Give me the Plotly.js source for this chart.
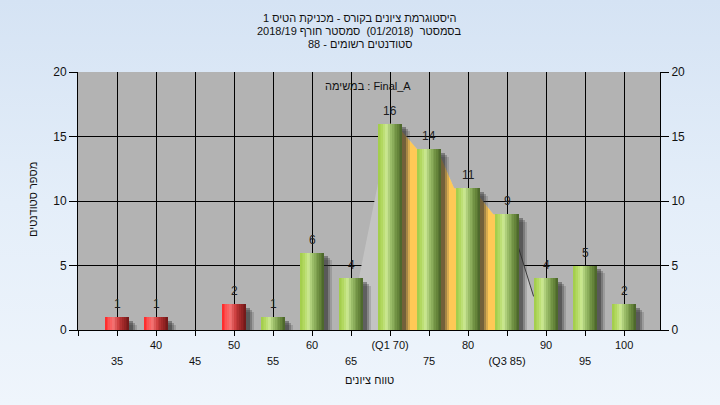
<!DOCTYPE html>
<html>
<head>
<meta charset="utf-8">
<script src="https://cdn.plot.ly/plotly-3.0.1.min.js"></script>
<style>
html,body{margin:0;padding:0;}
#chart{width:720px;height:405px;background:linear-gradient(to bottom,#D5E3F4 0%,#E4EEF9 50%,#EFF5FC 100%);}
</style>
</head>
<body>
<div id="chart"></div>
<script>
// ---- data ----
const grades = [35, 40, 45, 50, 55, 60, 65, 70, 75, 80, 85, 90, 95, 100];
const counts = [1, 1, 0, 2, 1, 6, 4, 16, 14, 11, 9, 4, 5, 2];
const passMark = 55;
const gridTicks = [30, 35, 40, 45, 50, 55, 60, 65, 70, 75, 80, 85, 90, 95, 100];
const row1Ticks = [40, 50, 60, 70, 80, 90, 100];
const row1Labels = ['40', '50', '60', '(Q1 70)', '80', '90', '100'];
const row2Ticks = [35, 45, 55, 65, 75, 85, 95];
const row2Labels = ['35', '45', '55', '65', '75', '(Q3 85)', '95'];
const yTicks = [0, 5, 10, 15, 20];
// smoothed distribution curve
const curveX = [64.6, 66.0, 68.4, 70, 71.5, 73.5, 76.5, 78.2, 81.5, 83.2, 86.3, 88.3, 89.8];
const curveY = [0, 4.0, 11.2, 16, 15.4, 14.0, 13.4, 11.0, 10.3, 9.0, 6.7, 2.8, 0];
// inter-quartile band (Q1..Q3)
const iqrX = [70, 71.5, 73.5, 76.5, 78.2, 81.5, 83.2, 85];
const iqrY = [16, 15.4, 14.0, 13.4, 11.0, 10.3, 9.0, 8.7];
const tailX = [86.3, 88.4];
const tailY = [6.7, 2.6];

const titleLines = [
  'היסטוגרמת ציונים בקורס - מכניקת הטיס 1',
  'בסמסטר  (01/2018)  סמסטר חורף 2018/19',
  'סטודנטים רשומים - 88'
];
const taskLabel = 'במשימה : Final_A';
const xTitle = 'טווח ציונים';
const yTitle = 'מספר סטודנטים';

// ---- styling helpers ----
const FONT = 'Liberation Sans, DejaVu Sans, Arial, sans-serif';
const BAR_W = 3.1;
const N = 14;
const greenStops = [[0, [160, 204, 72]], [0.18, [178, 216, 96]], [0.36, [206, 234, 152]], [0.55, [150, 184, 100]], [0.8, [104, 136, 60]], [1, [72, 98, 40]]];
const redStops = [[0, [255, 36, 36]], [0.18, [252, 84, 84]], [0.36, [242, 118, 118]], [0.55, [204, 62, 62]], [0.8, [150, 36, 36]], [1, [110, 24, 24]]];
function grad(stops, t) {
  for (let k = 0; k < stops.length - 1; k++) {
    const [a, ca] = stops[k], [b, cb] = stops[k + 1];
    if (t >= a && t <= b) {
      const f = (t - a) / (b - a);
      const c = ca.map((v, j) => Math.round(v + (cb[j] - v) * f));
      return 'rgb(' + c.join(',') + ')';
    }
  }
  return 'rgb(' + stops[stops.length - 1][1].join(',') + ')';
}

const traces = [];
// background areas on the base subplot
traces.push({type: 'scatter', x: curveX, y: curveY, mode: 'lines', fill: 'tozeroy',
  fillcolor: '#C3C3C3', line: {width: 0, color: '#C3C3C3'}, hoverinfo: 'skip', showlegend: false});
traces.push({type: 'scatter', x: iqrX, y: iqrY, mode: 'lines', fill: 'tozeroy',
  fillcolor: '#FFC956', line: {width: 0, color: '#FFC956'}, hoverinfo: 'skip', showlegend: false});
traces.push({type: 'scatter', x: tailX, y: tailY, mode: 'lines',
  line: {width: 1, color: '#3C3C3C'}, hoverinfo: 'skip', showlegend: false});

// shadows (overlay subplot)
const shadowLayers = [[0.95, 0.6, 'rgba(60,60,60,0.2)'], [0.7, 0.45, 'rgba(50,50,50,0.3)'], [0.45, 0.3, 'rgba(40,40,40,0.4)']];
shadowLayers.forEach(([dx, dy, col]) => {
  traces.push({type: 'bar', x: grades, y: counts.map(v => v > 0 ? Math.max(v - dy, 0) : 0),
    width: BAR_W, offset: -BAR_W / 2 + dx, marker: {color: col, line: {width: 0}},
    xaxis: 'x2', yaxis: 'y2', hoverinfo: 'skip', showlegend: false});
});
// gradient bars as strips
for (let i = 0; i < N; i++) {
  const t = (i + 0.5) / N;
  traces.push({type: 'bar', x: grades, y: counts,
    width: BAR_W / N * 1.15, offset: -BAR_W / 2 + i * BAR_W / N,
    marker: {color: grades.map(g => g < passMark ? grad(redStops, t) : grad(greenStops, t)), line: {width: 0}},
    xaxis: 'x2', yaxis: 'y2', hoverinfo: 'skip', showlegend: false});
}

// value labels (annotations built from the data)
const valueLabels = grades.map((g, i) => counts[i] > 0 ? {
  text: String(counts[i]), xref: 'x2', yref: 'y2', x: g, y: counts[i],
  xanchor: 'center', yanchor: 'bottom', yshift: 4, showarrow: false,
  font: {family: FONT, size: 12, color: '#1E1E1E'}
} : null).filter(a => a);

const X_RANGE = [30, 104.6];
const layout = {
  width: 720, height: 405,
  margin: {l: 78, r: 60, t: 72, b: 75},
  paper_bgcolor: 'rgba(0,0,0,0)', plot_bgcolor: '#B3B3B3',
  barmode: 'overlay', bargap: 0,
  font: {family: FONT, color: '#111'},
  xaxis: {range: X_RANGE, tickvals: gridTicks,
    ticktext: gridTicks.map(v => { const k = row1Ticks.indexOf(v); return k >= 0 ? row1Labels[k] : ''; }),
    ticks: 'outside', ticklen: 5, tickcolor: '#000', tickwidth: 1,
    showline: true, linecolor: '#000', linewidth: 1, showgrid: true, gridcolor: '#000', gridwidth: 1,
    zeroline: false, tickfont: {size: 11, color: '#111'}, fixedrange: true},
  xaxis2: {range: X_RANGE, overlaying: 'x', anchor: 'y2', side: 'bottom', tickvals: row2Ticks, ticktext: row2Labels,
    ticks: '', showline: false, showgrid: false, zeroline: false, ticklabelstandoff: 23,
    tickfont: {size: 11, color: '#111'}, fixedrange: true},
  yaxis: {range: [0, 20], tickvals: yTicks, ticks: 'outside', ticklen: 8, tickcolor: '#000',
    showline: true, linecolor: '#000', showgrid: true, gridcolor: '#000', gridwidth: 1, zeroline: false,
    tickfont: {size: 12, color: '#111'}, fixedrange: true},
  yaxis2: {range: [0, 20], overlaying: 'y', side: 'right', anchor: 'x2', tickvals: yTicks,
    ticks: 'outside', ticklen: 8, tickcolor: '#000', showline: true, linecolor: '#000',
    showgrid: false, zeroline: false, tickfont: {size: 12, color: '#111'}, fixedrange: true},
  annotations: [
    ...titleLines.map((t, i) => ({text: t, xref: 'paper', yref: 'paper', x: 0.4845,
      y: 1 + (54 - 13 * i) / 258, xanchor: 'center', yanchor: 'middle', showarrow: false,
      font: {family: FONT, size: 11, color: '#111'}})),
    {text: taskLabel, xref: 'paper', yref: 'paper', x: 0.498, y: (330 - 86) / 258,
      xanchor: 'center', yanchor: 'middle', showarrow: false, font: {family: FONT, size: 11, color: '#111'}},
    {text: xTitle, xref: 'paper', yref: 'paper', x: 0.5, y: (330 - 380) / 258,
      xanchor: 'center', yanchor: 'middle', showarrow: false, font: {family: FONT, size: 11, color: '#111'}},
    {text: yTitle, xref: 'paper', yref: 'paper', x: (33 - 78) / 582, y: 0.504, textangle: -90,
      xanchor: 'center', yanchor: 'middle', showarrow: false, font: {family: FONT, size: 11, color: '#111'}},
    ...valueLabels
  ]
};
Plotly.newPlot('chart', traces, layout, {displayModeBar: false, staticPlot: true});
</script>
</body>
</html>
